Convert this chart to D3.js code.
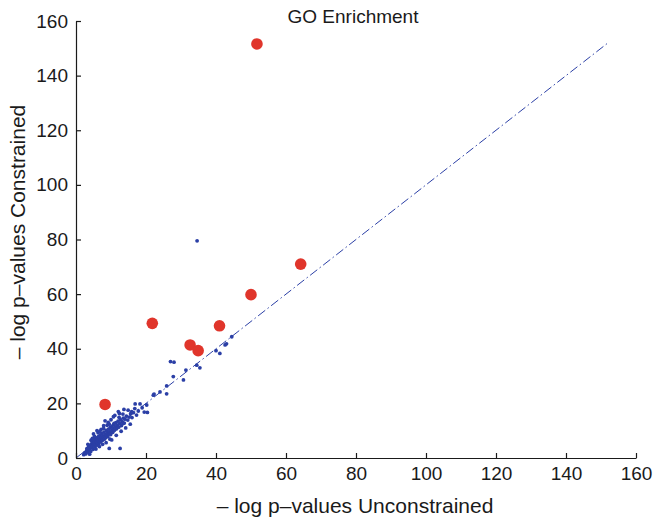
<!DOCTYPE html>
<html>
<head>
<meta charset="utf-8">
<script src="https://cdn.jsdelivr.net/npm/d3@7/dist/d3.min.js"></script>
<style>
  body { margin: 0; background: #fff; }
  svg text { font-family: "Liberation Sans", Arial, sans-serif; fill: #1a1a1a; }
</style>
</head>
<body>
<div id="chart"></div>
<script>
const width = 654;
const height = 519;
const margin = { top: 21, right: 18, bottom: 61, left: 76 };

const title = "GO Enrichment";
const xLabel = "\u2013 log p\u2013values Unconstrained";
const yLabel = "\u2013 log p\u2013values Constrained";
const xTicks = [0, 20, 40, 60, 80, 100, 120, 140, 160];
const yTicks = [0, 20, 40, 60, 80, 100, 120, 140, 160];

// small blue points: [unconstrained, constrained]
const bluePoints = [
  [2.2, 1.2], [2.5, 2.0], [2.8, 1.5], [3.0, 2.6], [3.1, 3.4], [3.3, 2.2], [3.5, 3.0], [3.6, 4.1],
  [3.8, 2.8], [4.0, 3.6], [4.1, 4.6], [4.2, 2.4], [4.4, 5.2], [4.5, 3.9], [4.6, 4.4], [4.8, 5.8],
  [4.9, 3.2], [5.0, 4.9], [5.1, 6.3], [5.2, 5.5], [5.4, 4.1], [5.5, 6.8], [5.6, 5.1], [5.8, 6.0],
  [5.9, 7.4], [6.0, 4.7], [6.1, 5.7], [6.2, 6.6], [6.4, 7.8], [6.5, 5.3], [6.6, 6.2], [6.8, 7.1],
  [6.9, 8.4], [7.0, 5.9], [7.1, 6.8], [7.3, 7.6], [7.4, 9.0], [7.5, 6.4], [7.7, 8.1], [7.8, 7.2],
  [8.0, 9.5], [8.1, 6.9], [8.2, 8.0], [8.4, 8.7], [8.5, 7.5], [8.7, 10.1], [8.8, 8.3], [8.9, 12.0],
  [9.0, 9.2], [9.1, 7.8], [9.3, 10.6], [9.4, 8.9], [9.6, 9.6], [9.8, 11.2], [9.9, 8.6], [10.1, 10.0],
  [10.3, 11.7], [10.5, 9.4], [10.6, 10.8], [10.8, 12.3], [11.0, 10.2], [11.2, 11.4], [11.4, 12.9],
  [11.6, 10.7], [11.8, 12.0], [12.0, 13.5], [12.2, 11.3], [12.5, 12.6], [12.7, 14.0], [13.0, 11.9],
  [13.2, 13.3], [13.5, 14.6], [13.8, 12.8], [14.0, 14.2], [14.4, 15.3], [14.8, 13.9], [15.2, 15.0],
  [15.6, 16.2], [16.0, 14.8], [16.4, 16.6],
  [3.4, 5.0], [4.3, 6.5], [5.3, 7.9], [6.3, 9.2], [7.2, 10.5], [7.9, 11.8], [9.2, 13.0], [10.0, 14.0],
  [11.1, 15.6], [12.4, 16.3], [13.7, 17.8], [3.9, 1.4], [5.7, 3.3], [6.7, 4.2], [7.6, 5.0], [8.6, 5.6],
  [9.7, 6.9], [11.5, 8.3], [12.9, 9.8], [14.2, 11.0], [15.5, 12.4], [14.9, 17.5], [16.8, 18.1],
  [17.8, 17.2], [18.9, 18.4], [19.5, 16.8], [5.0, 8.8], [6.0, 10.0], [8.3, 13.6], [10.9, 12.7],
  [6.8, 9.7], [4.7, 7.2], [7.9, 10.8], [9.5, 12.4], [12.3, 14.9], [13.4, 16.1],
  [12.1, 17.0], [10.7, 15.1], [15.9, 17.0], [17.3, 15.7], [20.4, 16.7], [13.5, 12.7],
  [12.6, 3.5], [9.5, 3.5], [10.2, 6.6], [16.9, 19.8], [18.3, 19.8], [20.2, 19.4],
  [22.1, 23.0], [22.3, 23.4], [25.9, 23.5], [25.9, 26.4], [24.0, 24.2],
  [27.0, 35.3], [28.0, 35.1], [27.8, 29.8], [30.7, 28.6], [31.4, 32.2],
  [34.5, 34.0], [35.4, 33.0], [40.0, 39.3], [41.1, 38.3], [42.6, 41.4], [43.0, 41.8], [44.5, 44.4],
  [34.6, 79.5]
];

// large red points
const redPoints = [
  [51.7, 151.6], [64.2, 71.0], [50.0, 59.8], [21.8, 49.3], [41.0, 48.4],
  [32.6, 41.4], [34.9, 39.3], [8.3, 19.6]
];

const diagonalEnd = 152;

const svg = d3.select("#chart")
  .append("svg")
  .attr("width", width)
  .attr("height", height);

const x = d3.scaleLinear().domain([0, 160]).range([margin.left, width - margin.right]);
const y = d3.scaleLinear().domain([0, 160]).range([height - margin.bottom, margin.top]);

// diagonal reference line
svg.append("line")
  .attr("x1", x(0)).attr("y1", y(0))
  .attr("x2", x(diagonalEnd)).attr("y2", y(diagonalEnd))
  .attr("stroke", "#2b3fa6")
  .attr("stroke-width", 1)
  .attr("stroke-dasharray", "9,3,1.5,3");

// blue points
svg.append("g")
  .selectAll("circle")
  .data(bluePoints)
  .join("circle")
  .attr("cx", d => x(d[0]))
  .attr("cy", d => y(d[1]))
  .attr("r", 1.9)
  .attr("fill", "#2b3fa6");

// red points
svg.append("g")
  .selectAll("circle")
  .data(redPoints)
  .join("circle")
  .attr("cx", d => x(d[0]))
  .attr("cy", d => y(d[1]))
  .attr("r", 5.8)
  .attr("fill", "#e0352b");

// axes
const xAxis = svg.append("g")
  .attr("transform", `translate(0,${height - margin.bottom})`)
  .call(d3.axisBottom(x).tickValues(xTicks).tickSizeInner(-5).tickSizeOuter(0).tickPadding(9));

const yAxis = svg.append("g")
  .attr("transform", `translate(${margin.left},0)`)
  .call(d3.axisLeft(y).tickValues(yTicks).tickSizeInner(-5).tickSizeOuter(0).tickPadding(8));

[xAxis, yAxis].forEach(a => {
  a.selectAll("path, line").attr("stroke", "#1a1a1a").attr("stroke-width", 1.2);
  a.selectAll("text").style("font-size", "19px").attr("fill", "#1a1a1a");
});

// title and axis labels
svg.append("text")
  .attr("x", 353).attr("y", 23)
  .attr("text-anchor", "middle")
  .style("font-size", "19px")
  .text(title);

svg.append("text")
  .attr("x", 355).attr("y", 513)
  .attr("text-anchor", "middle")
  .style("font-size", "21px")
  .text(xLabel);

svg.append("text")
  .attr("transform", "translate(25,232) rotate(-90)")
  .attr("text-anchor", "middle")
  .style("font-size", "21px")
  .text(yLabel);
</script>
</body>
</html>
